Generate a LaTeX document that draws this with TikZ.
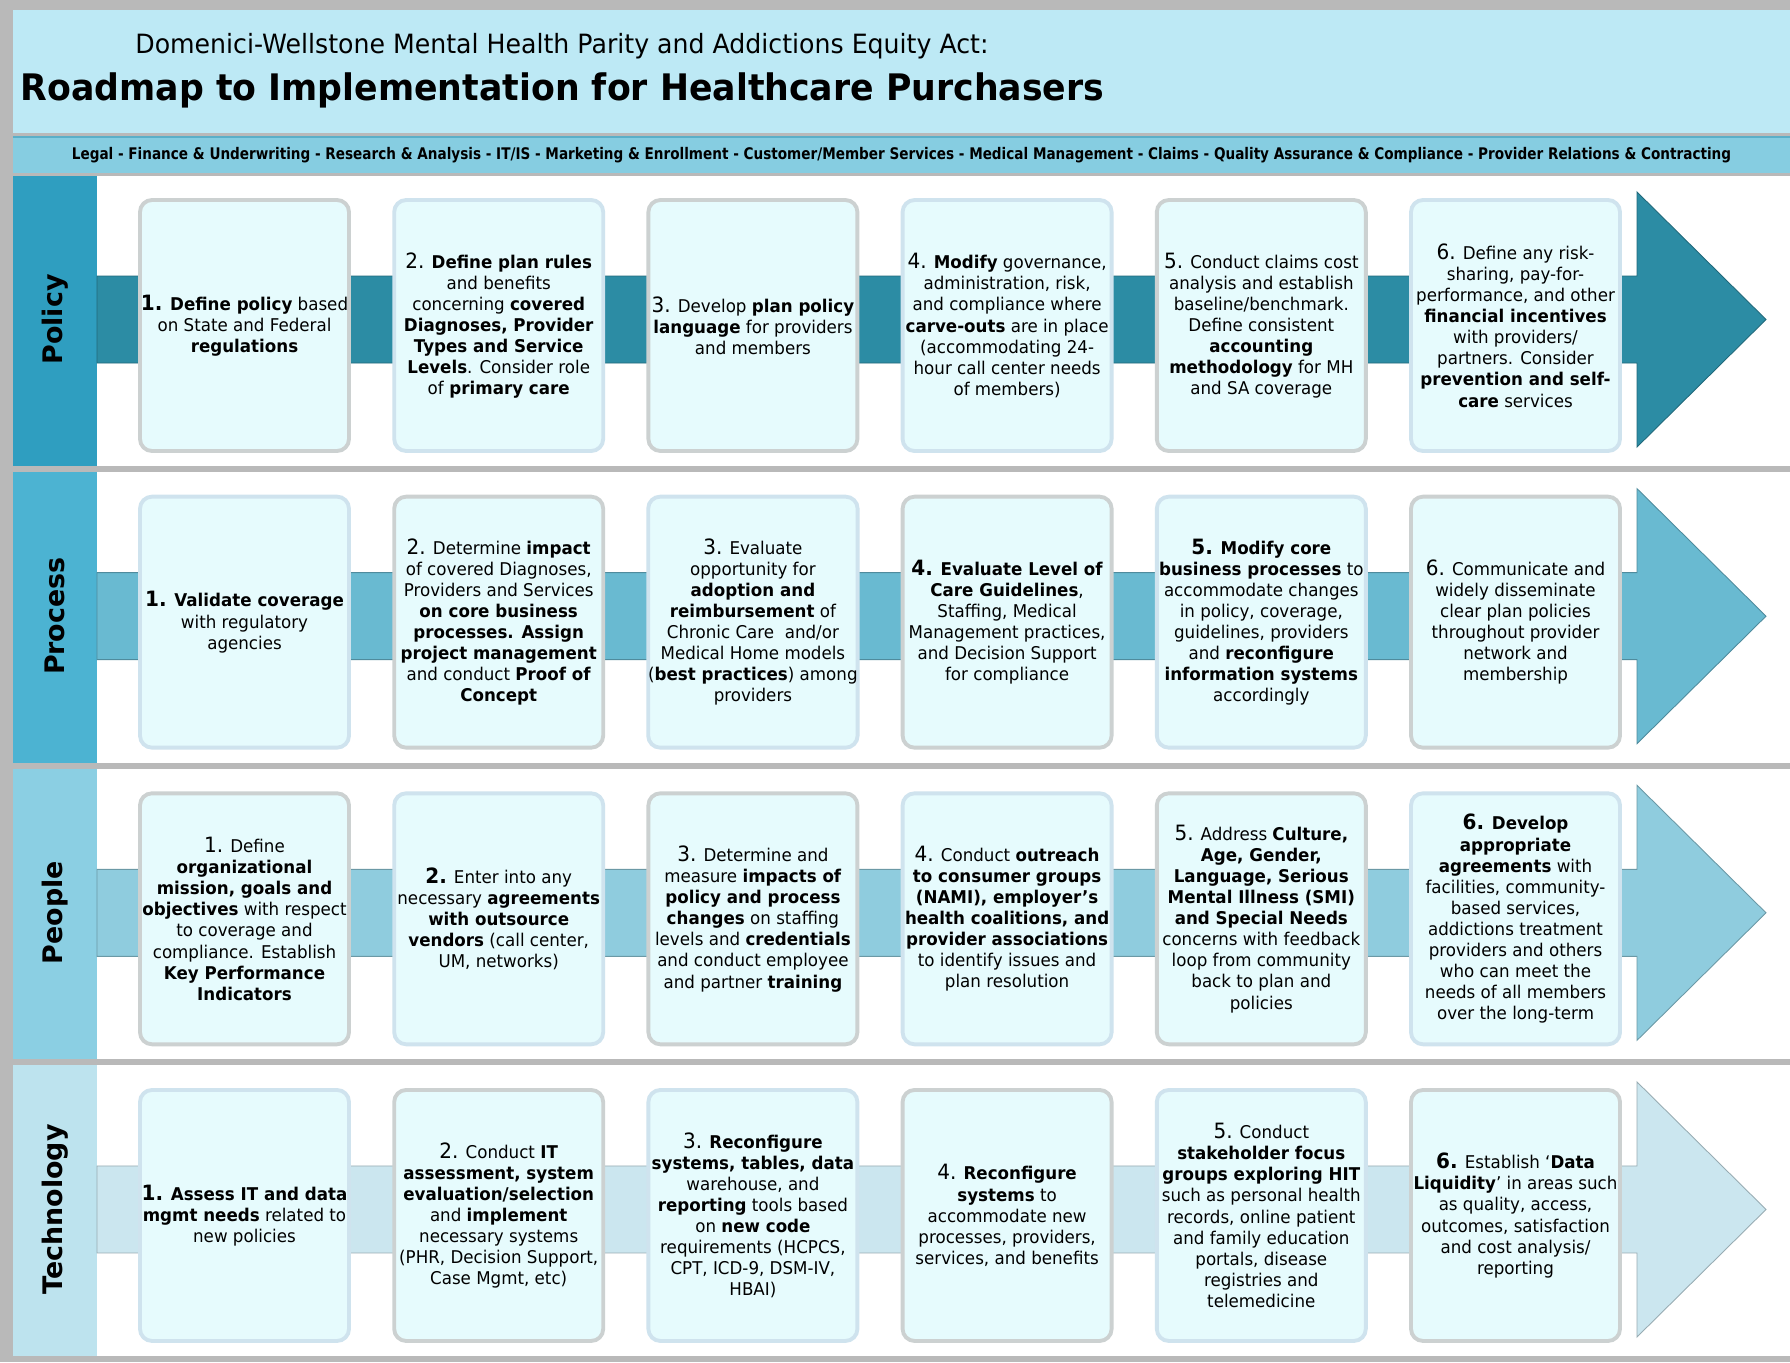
\documentclass[tikz,border=0pt]{standalone}
\usepackage{fontspec}
\setmainfont{DejaVu Sans}[FakeStretch=0.95]
\newfontfamily\rowfont{DejaVu Sans}
\newfontfamily\bandfont{DejaVu Sans}[FakeStretch=0.85]

\definecolor{framegray}{HTML}{B9B9B9}
\definecolor{headfill}{HTML}{BDE9F5}
\definecolor{bandfill}{HTML}{86CDE1}
\definecolor{bandedge}{HTML}{5AAFC8}
\definecolor{polcol}{HTML}{2F9EC0}
\definecolor{polarr}{HTML}{2C8CA4}
\definecolor{procol}{HTML}{4CB3D2}
\definecolor{proarr}{HTML}{69BAD1}
\definecolor{peocol}{HTML}{8BCFE3}
\definecolor{peoarr}{HTML}{8FCCDE}
\definecolor{teccol}{HTML}{BDE3EE}
\definecolor{tecarr}{HTML}{CBE6EF}
\definecolor{boxfill}{HTML}{E6FBFD}
\definecolor{boxgray}{HTML}{CCD1D1}
\definecolor{boxblue}{HTML}{CFE3EE}

\tikzset{
  task/.style={rounded corners=0.24cm, fill=boxfill, line width=2.2pt,
    minimum width=4.18cm, minimum height=5.02cm, inner sep=0pt,
    align=center, font=\fontsize{10}{12}\selectfont},
  taskgray/.style={task, draw=boxgray},
  taskblue/.style={task, draw=boxblue},
  rowlabel/.style={rotate=90, font=\rowfont\bfseries\fontsize{15.3}{18}\selectfont},
}
\newcommand\stepno[1]{{\fontsize{12}{12}\selectfont #1}}

\begin{document}
\begin{tikzpicture}

    \useasboundingbox (0,0) rectangle (35.8,-27.24);

    % frame and header
    \fill [framegray] (0,0) rectangle (35.8,-27.24);
    \fill [headfill] (0.26,-0.2) rectangle (35.8,-2.66);
    \node [anchor=base west, inner sep=0, font=\fontsize{15.1}{18}\selectfont] (subtitle) at (2.7,-1.06)
        {Domenici-Wellstone Mental Health Parity and Addictions Equity Act:};
    \node [anchor=base west, inner sep=0, font=\bfseries\fontsize{20.8}{24}\selectfont] (title) at (0.41,-2.0)
        {Roadmap to Implementation for Healthcare Purchasers};

    % functions band
    \fill [bandfill] (0.26,-2.74) rectangle (35.8,-3.46);
    \draw [bandedge, line width=1.2pt] (0.26,-2.74) -- (35.8,-2.74);
    \node [font=\bandfont\bfseries\fontsize{9.1}{11}\selectfont] (functions) at (18.03,-3.1)
        {Legal - Finance \& Underwriting - Research \& Analysis - IT/IS - Marketing \& Enrollment - Customer/Member Services - Medical Management - Claims - Quality Assurance \& Compliance - Provider Relations \& Contracting};

    % rows: background, label column, arrow
    \foreach \r/\lab/\col/\arr in {0/Policy/polcol/polarr, 1/Process/procol/proarr,
                                   2/People/peocol/peoarr, 3/Technology/teccol/tecarr} {
        \pgfmathsetmacro\yc{-(6.39+5.933*\r)}
        \fill [white] (1.94,\yc+2.88) rectangle (35.8,\yc-2.93);
        \fill [\col] (0.26,\yc+2.88) rectangle (1.94,\yc-2.93);
        \node [rowlabel] (\lab) at (1.1,\yc) {\lab};
        \filldraw [fill=\arr, draw=\arr!75!black, line width=0.5pt]
            (1.94,\yc+0.87) -- (32.74,\yc+0.87) -- (32.74,\yc+2.55) -- (35.32,\yc)
            -- (32.74,\yc-2.55) -- (32.74,\yc-0.87) -- (1.94,\yc-0.87) -- cycle;
    }

    % Policy
    \node [taskgray] (pol1) at (4.89,-6.51) {\textbf{\stepno{1.} Define policy} based\\on State and Federal\\\textbf{regulations}};
    \node [taskblue] (pol2) at (9.974,-6.51) {\stepno{2.} \textbf{Define plan rules}\\and benefits\\concerning \textbf{covered}\\\textbf{Diagnoses, Provider}\\\textbf{Types and Service}\\\textbf{Levels}. Consider role\\of \textbf{primary care}};
    \node [taskgray] (pol3) at (15.058,-6.51) {\stepno{3.} Develop \textbf{plan policy}\\\textbf{language} for providers\\and members};
    \node [taskblue] (pol4) at (20.142,-6.51) {\stepno{4.} \textbf{Modify} governance,\\administration, risk,\\and compliance where\\\textbf{carve-outs} are in place\\(accommodating 24-\\hour call center needs\\of members)};
    \node [taskgray] (pol5) at (25.226,-6.51) {\stepno{5.} Conduct claims cost\\analysis and establish\\baseline/benchmark.\\Define consistent\\\textbf{accounting}\\\textbf{methodology} for MH\\and SA coverage};
    \node [taskblue] (pol6) at (30.31,-6.51) {\stepno{6.} Define any risk-\\sharing, pay-for-\\performance, and other\\\textbf{financial incentives}\\with providers/\\partners. Consider\\\textbf{prevention and self-}\\\textbf{care} services};

    % Process
    \node [taskblue] (pro1) at (4.89,-12.443) {\textbf{\stepno{1.} Validate coverage}\\with regulatory\\agencies};
    \node [taskgray] (pro2) at (9.974,-12.443) {\stepno{2.} Determine \textbf{impact}\\of covered Diagnoses,\\Providers and Services\\\textbf{on core business}\\\textbf{processes. Assign}\\\textbf{project management}\\and conduct \textbf{Proof of}\\\textbf{Concept}};
    \node [taskblue] (pro3) at (15.058,-12.443) {\stepno{3.} Evaluate\\opportunity for\\\textbf{adoption and}\\\textbf{reimbursement} of\\Chronic Care\ \ and/or\\Medical Home models\\(\textbf{best practices}) among\\providers};
    \node [taskgray] (pro4) at (20.142,-12.443) {\textbf{\stepno{4.} Evaluate Level of}\\\textbf{Care Guidelines},\\Staffing, Medical\\Management practices,\\and Decision Support\\for compliance};
    \node [taskblue] (pro5) at (25.226,-12.443) {\textbf{\stepno{5.} Modify core}\\\textbf{business processes} to\\accommodate changes\\in policy, coverage,\\guidelines, providers\\and \textbf{reconfigure}\\\textbf{information systems}\\accordingly};
    \node [taskgray] (pro6) at (30.31,-12.443) {\stepno{6.} Communicate and\\widely disseminate\\clear plan policies\\throughout provider\\network and\\membership};

    % People
    \node [taskgray] (peo1) at (4.89,-18.376) {\stepno{1.} Define\\\textbf{organizational}\\\textbf{mission, goals and}\\\textbf{objectives} with respect\\to coverage and\\compliance. Establish\\\textbf{Key Performance}\\\textbf{Indicators}};
    \node [taskblue] (peo2) at (9.974,-18.376) {\textbf{\stepno{2.}} Enter into any\\necessary \textbf{agreements}\\\textbf{with outsource}\\\textbf{vendors} (call center,\\UM, networks)};
    \node [taskgray] (peo3) at (15.058,-18.376) {\stepno{3.} Determine and\\measure \textbf{impacts of}\\\textbf{policy and process}\\\textbf{changes} on staffing\\levels and \textbf{credentials}\\and conduct employee\\and partner \textbf{training}};
    \node [taskblue] (peo4) at (20.142,-18.376) {\stepno{4.} Conduct \textbf{outreach}\\\textbf{to consumer groups}\\\textbf{(NAMI), employer’s}\\\textbf{health coalitions, and}\\\textbf{provider associations}\\to identify issues and\\plan resolution};
    \node [taskgray] (peo5) at (25.226,-18.376) {\stepno{5.} Address \textbf{Culture,}\\\textbf{Age, Gender,}\\\textbf{Language, Serious}\\\textbf{Mental Illness (SMI)}\\\textbf{and Special Needs}\\concerns with feedback\\loop from community\\back to plan and\\policies};
    \node [taskblue] (peo6) at (30.31,-18.376) {\textbf{\stepno{6.} Develop}\\\textbf{appropriate}\\\textbf{agreements} with\\facilities, community-\\based services,\\addictions treatment\\providers and others\\who can meet the\\needs of all members\\over the long-term};

    % Technology
    \node [taskblue] (tec1) at (4.89,-24.309) {\textbf{\stepno{1.} Assess IT and data}\\\textbf{mgmt needs} related to\\new policies};
    \node [taskgray] (tec2) at (9.974,-24.309) {\stepno{2.} Conduct \textbf{IT}\\\textbf{assessment, system}\\\textbf{evaluation/selection}\\and \textbf{implement}\\necessary systems\\(PHR, Decision Support,\\Case Mgmt, etc)};
    \node [taskblue] (tec3) at (15.058,-24.309) {\stepno{3.} \textbf{Reconfigure}\\\textbf{systems, tables, data}\\warehouse, and\\\textbf{reporting} tools based\\on \textbf{new code}\\requirements (HCPCS,\\CPT, ICD-9, DSM-IV,\\HBAI)};
    \node [taskgray] (tec4) at (20.142,-24.309) {\stepno{4.} \textbf{Reconfigure}\\\textbf{systems} to\\accommodate new\\processes, providers,\\services, and benefits};
    \node [taskblue] (tec5) at (25.226,-24.309) {\stepno{5.} Conduct\\\textbf{stakeholder focus}\\\textbf{groups exploring HIT}\\such as personal health\\records, online patient\\and family education\\portals, disease\\registries and\\telemedicine};
    \node [taskgray] (tec6) at (30.31,-24.309) {\textbf{\stepno{6.}} Establish ‘\textbf{Data}\\\textbf{Liquidity}’ in areas such\\as quality, access,\\outcomes, satisfaction\\and cost analysis/\\reporting};

\end{tikzpicture}
\end{document}
